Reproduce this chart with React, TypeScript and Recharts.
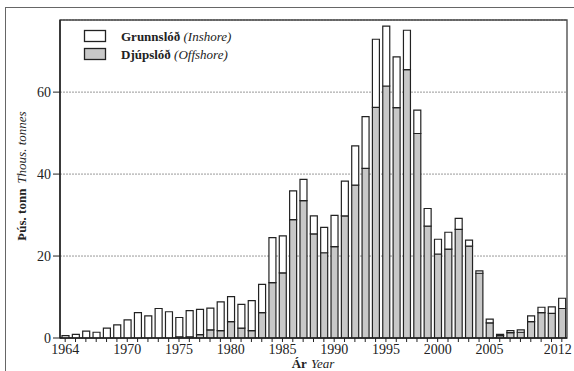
import React from 'react';
import { BarChart, Bar, XAxis, YAxis, CartesianGrid, Label, ReferenceArea } from 'recharts';

const years = [
  1964, 1965, 1966, 1967, 1968, 1969, 1970, 1971, 1972, 1973, 1974, 1975, 1976, 1977, 1978, 1979,
  1980, 1981, 1982, 1983, 1984, 1985, 1986, 1987, 1988, 1989, 1990, 1991, 1992, 1993, 1994, 1995,
  1996, 1997, 1998, 1999, 2000, 2001, 2002, 2003, 2004, 2005, 2006, 2007, 2008, 2009, 2010, 2011, 2012,
];

// Djúpslóð (Offshore), thousand tonnes
const offshore = [
  0, 0, 0, 0, 0, 0, 0, 0, 0, 0, 0, 0.3, 0.3, 0.8, 2.0, 1.8,
  4.0, 2.4, 1.8, 6.2, 13.5, 15.9, 28.9, 33.5, 25.4, 20.8, 22.3, 29.8, 37.3, 41.4, 56.3, 61.5,
  56.2, 65.5, 49.9, 27.3, 20.5, 21.7, 26.5, 22.4, 15.8, 3.7, 0.6, 1.3, 1.4, 4.0, 6.2, 6.0, 7.2,
];

// Grunnslóð (Inshore), thousand tonnes
const inshore = [
  0.6, 0.9, 1.7, 1.4, 2.4, 3.2, 4.4, 6.2, 5.4, 7.2, 6.4, 4.7, 6.4, 6.2, 5.3, 7.0,
  6.1, 5.8, 7.3, 6.9, 11.0, 9.0, 7.0, 5.2, 4.4, 6.2, 7.6, 8.5, 9.6, 12.6, 16.6, 14.6,
  12.4, 9.6, 5.7, 4.3, 3.6, 4.1, 2.7, 1.5, 0.6, 0.9, 0.3, 0.5, 0.6, 1.4, 1.3, 1.6, 2.5,
];

const labeledYears = [1964, 1970, 1975, 1980, 1985, 1990, 1995, 2000, 2005, 2012];
const yTicks = [0, 20, 40, 60];
const yMax = 77.6;

const data = years.map((y, i) => ({ year: y, offshore: offshore[i], inshore: inshore[i] }));

const FONT = '"Liberation Serif", "DejaVu Serif", serif';
const INK = '#222';

const XTick = (props: any) => {
  const { x, y, payload } = props;
  if (!labeledYears.includes(payload.value)) return null;
  const isLast = payload.value === years[years.length - 1];
  return (
    <text x={x} y={y} dy={10} dx={isLast ? -4 : 0} textAnchor="middle" fontFamily={FONT} fontSize={14} fill={INK}>
      {payload.value}
    </text>
  );
};

const YTick = (props: any) => {
  const { x, y, payload } = props;
  return (
    <text x={x} y={y} dy={5} textAnchor="end" fontFamily={FONT} fontSize={14} fill={INK}>
      {payload.value}
    </text>
  );
};

const LegendOverlay = () => (
  <svg width={300} height={70} style={{ position: 'absolute', left: 0, top: 0 }}>
    <rect x={84.5} y={30.5} width={21} height={11} fill="#fff" stroke={INK} strokeWidth={1.3} />
    <text x={121} y={41} fontFamily={FONT} fontSize={13} fill={INK}>
      <tspan fontWeight="bold">Grunnslóð</tspan>
      <tspan fontStyle="italic"> (Inshore)</tspan>
    </text>
    <rect x={84.5} y={48.5} width={21} height={11} fill="#c8c8c8" stroke={INK} strokeWidth={1.3} />
    <text x={121} y={59} fontFamily={FONT} fontSize={13} fill={INK}>
      <tspan fontWeight="bold">Djúpslóð</tspan>
      <tspan fontStyle="italic"> (Offshore)</tspan>
    </text>
  </svg>
);

export default function App() {
  return (
    <div style={{ position: 'absolute', left: 0, top: 0, width: 574, height: 371, background: '#fff', overflow: 'hidden' }}>
      <div
        style={{
          position: 'absolute',
          left: 5,
          top: 7,
          width: 574,
          height: 380,
          borderTop: '1.5px solid #666',
          borderLeft: '1.5px solid #666',
        }}
      />
      <BarChart
        width={574}
        height={371}
        data={data}
        margin={{ top: 20, right: 7, left: 0, bottom: 0 }}
        barCategoryGap={0}
        barGap={0}
      >
        <CartesianGrid vertical={false} stroke="#999" strokeDasharray="2 1" />
        <XAxis
          dataKey="year"
          interval={0}
          height={33}
          tick={<XTick />}
          tickSize={4}
          tickLine={{ stroke: INK }}
          axisLine={{ stroke: INK, strokeWidth: 1.5 }}
          padding={{ left: 0, right: 0 }}
        >
          <Label
            content={() => (
              <text x={313} y={368} textAnchor="middle" fontFamily={FONT} fontSize={13} fill={INK}>
                <tspan fontWeight="bold">Ár</tspan>
                <tspan fontStyle="italic" dx={4}>Year</tspan>
              </text>
            )}
          />
        </XAxis>
        <YAxis
          width={60}
          domain={[0, yMax]}
          ticks={yTicks}
          tick={<YTick />}
          tickSize={7}
          tickLine={{ stroke: INK }}
          axisLine={{ stroke: INK, strokeWidth: 1.5 }}
          allowDataOverflow
        >
          <Label
            content={() => (
              <text
                x={26}
                y={176}
                transform="rotate(-90 26 176)"
                textAnchor="middle"
                fontFamily={FONT}
                fontSize={13}
                fill={INK}
              >
                <tspan fontWeight="bold">Þús. tonn</tspan>
                <tspan fontStyle="italic" dx={5}>Thous. tonnes</tspan>
              </text>
            )}
          />
        </YAxis>
        <ReferenceArea
          x1={years[0]}
          x2={years[years.length - 1]}
          y1={0}
          y2={yMax}
          fill="none"
          fillOpacity={0}
          stroke="#444"
          strokeWidth={1.3}
          ifOverflow="visible"
        />
        <Bar dataKey="offshore" stackId="a" fill="#c8c8c8" stroke={INK} strokeWidth={1.2} barSize={7} isAnimationActive={false} />
        <Bar dataKey="inshore" stackId="a" fill="#fff" stroke={INK} strokeWidth={1.2} barSize={7} isAnimationActive={false} />
      </BarChart>
      <LegendOverlay />
    </div>
  );
}
